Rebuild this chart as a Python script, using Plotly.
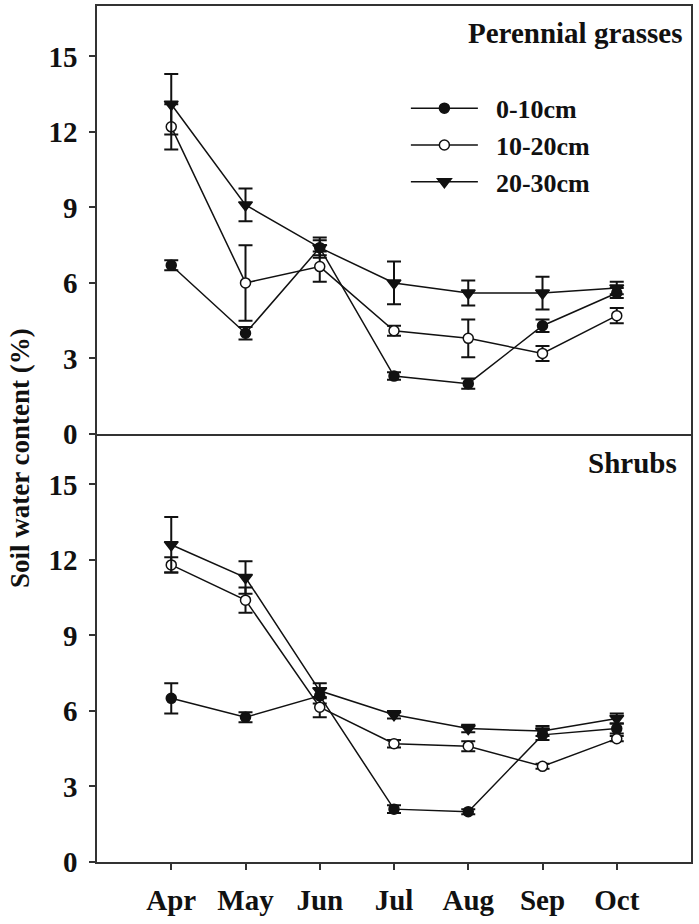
import plotly.graph_objects as go

months = ["Apr", "May", "Jun", "Jul", "Aug", "Sep", "Oct"]
xpos = [1, 2, 3, 4, 5, 6, 7]
series_names = ["0-10cm", "10-20cm", "20-30cm"]

# Perennial grasses (top panel)
grass_0_10 = [6.7, 4.0, 7.4, 2.3, 2.0, 4.3, 5.6]
grass_0_10_err = [0.2, 0.25, 0.3, 0.15, 0.2, 0.25, 0.2]
grass_10_20 = [12.2, 6.0, 6.65, 4.1, 3.8, 3.2, 4.7]
grass_10_20_err = [0.9, 1.5, 0.6, 0.2, 0.75, 0.3, 0.3]
grass_20_30 = [13.1, 9.1, 7.4, 6.0, 5.6, 5.6, 5.8]
grass_20_30_err = [1.2, 0.65, 0.4, 0.85, 0.5, 0.65, 0.25]

# Shrubs (bottom panel)
shrub_0_10 = [6.5, 5.75, 6.6, 2.1, 2.0, 5.05, 5.3]
shrub_0_10_err = [0.6, 0.2, 0.3, 0.15, 0.1, 0.2, 0.2]
shrub_10_20 = [11.8, 10.4, 6.15, 4.7, 4.6, 3.8, 4.9]
shrub_10_20_err = [0.3, 0.5, 0.4, 0.15, 0.2, 0.1, 0.1]
shrub_20_30 = [12.6, 11.3, 6.8, 5.85, 5.3, 5.2, 5.7]
shrub_20_30_err = [1.1, 0.65, 0.3, 0.15, 0.15, 0.2, 0.2]

yticks = [0, 3, 6, 9, 12, 15]

FONT = "Liberation Serif"
BLACK = "#111111"
LINE = "#333333"

styles = [
    dict(symbol="circle", color=BLACK, line=dict(color=BLACK, width=1.5), size=10),
    dict(symbol="circle", color="white", line=dict(color=BLACK, width=1.5), size=10),
    dict(symbol="triangle-down", color=BLACK, line=dict(color=BLACK, width=1.5), size=12),
]

fig = go.Figure()

panels = [
    ("x", "y", [grass_0_10, grass_10_20, grass_20_30],
     [grass_0_10_err, grass_10_20_err, grass_20_30_err], True),
    ("x2", "y2", [shrub_0_10, shrub_10_20, shrub_20_30],
     [shrub_0_10_err, shrub_10_20_err, shrub_20_30_err], False),
]

NBSP = "\u00a0\u00a0"
for xa, ya, vals, errs, show in panels:
    for i in range(3):
        fig.add_trace(go.Scatter(
            x=xpos, y=vals[i], xaxis=xa, yaxis=ya,
            mode="lines+markers",
            name=NBSP + series_names[i],
            legendgroup=series_names[i],
            showlegend=show,
            line=dict(color=BLACK, width=1.5),
            marker=styles[i],
            error_y=dict(type="data", array=errs[i], visible=True,
                         color=BLACK, thickness=2, width=7),
        ))

base = dict(showline=True, linecolor=LINE, linewidth=1.5,
            showgrid=False, zeroline=False, automargin=False)
tickfont_y = dict(family=FONT, size=29, color=BLACK, weight="bold")
tickfont_x = dict(family=FONT, size=29, color=BLACK, weight="bold")

fig.update_layout(
    width=699, height=924,
    margin=dict(l=97, r=8, t=6, b=62),
    paper_bgcolor="white", plot_bgcolor="white",
    font=dict(family=FONT, color=BLACK),
    xaxis=dict(domain=[0, 1], range=[0, 8], anchor="y", showticklabels=False,
               ticks="", mirror=True, **base),
    yaxis=dict(domain=[0.5, 1], range=[0, 17], anchor="x", mirror=True,
               tickvals=yticks, ticks="outside", ticklen=6, tickwidth=1.5,
               tickcolor=LINE, ticklabelstandoff=6, tickfont=tickfont_y, **base),
    xaxis2=dict(domain=[0, 1], range=[0, 8], anchor="y2", mirror=False,
                tickvals=xpos, ticktext=months, ticks="outside", ticklen=6,
                tickwidth=1.5, tickcolor=LINE, ticklabelstandoff=5,
                tickfont=tickfont_x, **base),
    yaxis2=dict(domain=[0, 0.5], range=[0, 17], anchor="x2", mirror=True,
                tickvals=yticks, ticks="outside", ticklen=6, tickwidth=1.5,
                tickcolor=LINE, ticklabelstandoff=6, tickfont=tickfont_y, **base),
    legend=dict(x=0.52, y=0.908, xanchor="left", yanchor="top",
                bgcolor="rgba(0,0,0,0)", tracegroupgap=0, itemwidth=67,
                font=dict(family=FONT, size=26, color=BLACK, weight="bold")),
    annotations=[
        dict(text="Perennial grasses", xref="paper", yref="paper",
             x=(685 - 97) / 594, y=1 - (33 - 6) / 856, xanchor="right",
             yanchor="middle", showarrow=False,
             font=dict(family=FONT, size=29, color=BLACK, weight="bold")),
        dict(text="Shrubs", xref="paper", yref="paper",
             x=(679 - 97) / 594, y=1 - (463 - 6) / 856, xanchor="right",
             yanchor="middle", showarrow=False,
             font=dict(family=FONT, size=29, color=BLACK, weight="bold")),
        dict(text="Soil water content (%)", xref="paper", yref="paper",
             x=(20 - 97) / 594, y=1 - (458 - 6) / 856, xanchor="center",
             yanchor="middle", showarrow=False, textangle=-90,
             font=dict(family=FONT, size=27, color=BLACK, weight="bold")),
    ],
)

fig.write_html("out.html", config={"displayModeBar": False},
               post_script="document.body.style.margin='0';document.body.style.overflow='hidden';")
